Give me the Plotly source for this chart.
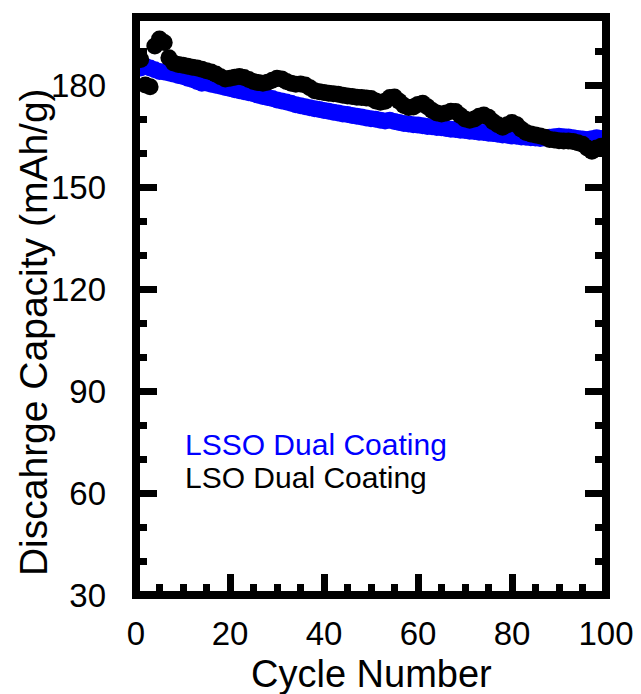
import plotly.graph_objects as go

cycles = list(range(1, 101))

lsso_dual = [
    185.0, 185.5, 185.0, 184.5, 184.0, 183.8, 183.5, 183.2, 182.8, 182.5,
    182.0, 181.6, 181.0, 180.5, 180.6, 180.2, 179.9, 179.6, 179.3, 179.0,
    178.6, 178.3, 178.0, 177.7, 177.4, 177.0, 176.6, 176.3, 176.0, 175.6,
    175.3, 175.0, 174.6, 174.2, 173.9, 173.6, 173.3, 173.0, 172.8, 172.5,
    172.3, 172.0, 171.8, 171.5, 171.3, 171.0, 170.8, 170.6, 170.3, 170.1,
    169.9, 169.6, 169.4, 169.6, 169.3, 169.0, 168.7, 168.5, 168.3, 168.2,
    168.0, 167.8, 167.7, 167.5, 167.4, 167.2, 167.0, 166.9, 166.7, 166.6,
    166.4, 166.3, 166.1, 166.0, 165.8, 165.7, 165.5, 165.3, 165.2, 165.0,
    164.9, 164.7, 164.6, 164.5, 164.4, 164.3, 164.4, 164.6, 164.8, 164.9,
    164.8, 164.7, 164.5, 164.3, 164.1, 164.0, 164.2, 164.5, 164.3, 164.0,
]

lso_dual = [
    187.5, 180.0, 179.5, 191.5, 193.5, 192.5, 188.0, 186.5, 186.0, 185.8,
    185.5, 185.2, 185.0, 184.6, 184.2, 183.8, 183.2, 182.4, 181.8, 182.0,
    182.3, 182.5, 182.2, 181.6, 181.0, 180.7, 180.5, 180.8, 181.4, 182.0,
    181.8, 181.0, 180.5, 180.2, 180.3, 180.0, 179.2, 178.3, 178.0, 177.8,
    177.6, 177.4, 177.3, 177.0, 176.8, 176.6, 176.4, 176.3, 176.2, 176.0,
    175.3, 174.9, 175.2, 176.3, 176.5, 175.2, 174.0, 173.4, 173.5, 174.3,
    174.6, 173.6, 172.5, 171.8, 171.5, 171.8, 172.3, 172.2, 171.0, 170.0,
    169.6, 170.0, 170.8, 171.2, 170.5, 169.2, 168.3, 167.6, 168.3, 169.0,
    168.3, 167.0, 166.0, 165.6, 165.3, 165.0, 164.6, 164.0, 163.8, 163.6,
    163.5, 163.5, 163.4, 163.0, 162.6, 161.5, 160.5, 161.5, 162.0, 162.0,
]

x_ticks = [0, 20, 40, 60, 80, 100]
y_ticks = [30, 60, 90, 120, 150, 180]
labels = ["LSSO Dual Coating", "LSO Dual Coating"]
colors = ["#0000FF", "#000000"]
x_title = "Cycle Number"
y_title = "Discahrge Capacity (mAh/g)"

FONT = "Liberation Sans, Arial, sans-serif"

fig = go.Figure()
fig.add_trace(go.Scatter(x=cycles, y=lsso_dual, mode="markers", name=labels[0],
                         marker=dict(size=17, color=colors[0]), showlegend=False))
fig.add_trace(go.Scatter(x=cycles, y=lso_dual, mode="markers", name=labels[1],
                         marker=dict(size=17, color=colors[1]), showlegend=False))

fig.add_annotation(x=10.1, y=74.4, xref="x", yref="y", text=labels[0], showarrow=False,
                   xanchor="left", yanchor="middle", font=dict(family=FONT, size=30, color=colors[0]))
fig.add_annotation(x=10.1, y=64.7, xref="x", yref="y", text=labels[1], showarrow=False,
                   xanchor="left", yanchor="middle", font=dict(family=FONT, size=30, color=colors[1]))

# axis titles
fig.add_annotation(x=-0.219, y=0.455, xref="paper", yref="paper", text=y_title, showarrow=False,
                   textangle=-90, xanchor="center", yanchor="middle",
                   font=dict(family=FONT, size=39, color="black"))
fig.add_annotation(x=0.5, y=-0.1367, xref="paper", yref="paper", text=x_title, showarrow=False,
                   xanchor="center", yanchor="middle",
                   font=dict(family=FONT, size=38, color="black"))

fig.add_shape(type="rect", xref="paper", yref="paper", x0=0, x1=1, y0=0, y1=1,
              line=dict(color="black", width=8), layer="above")

fig.update_layout(
    width=625, height=686,
    margin=dict(l=128, r=27, t=9, b=99, autoexpand=False),
    paper_bgcolor="white", plot_bgcolor="white",
    font=dict(family=FONT, color="black"),
    xaxis=dict(range=[0, 100], tickvals=x_ticks, ticks="inside", ticklen=21, tickwidth=7,
               tickcolor="black", showgrid=False, zeroline=False, showline=False,
               tickfont=dict(size=33), ticklabelstandoff=16, ticklabeloverflow="allow",
               automargin=False,
               minor=dict(dtick=5, tick0=0, ticks="inside", ticklen=11, tickwidth=7,
                          tickcolor="black", showgrid=False)),
    yaxis=dict(range=[30, 200], tickvals=y_ticks, ticks="inside", ticklen=21, tickwidth=7,
               tickcolor="black", showgrid=False, zeroline=False, showline=False,
               mirror="ticks", tickfont=dict(size=33), ticklabelstandoff=29,
               ticklabeloverflow="allow", automargin=False,
               minor=dict(dtick=10, tick0=30, ticks="inside", ticklen=11, tickwidth=7,
                          tickcolor="black", showgrid=False)),
)

fig.write_html("out.html")
